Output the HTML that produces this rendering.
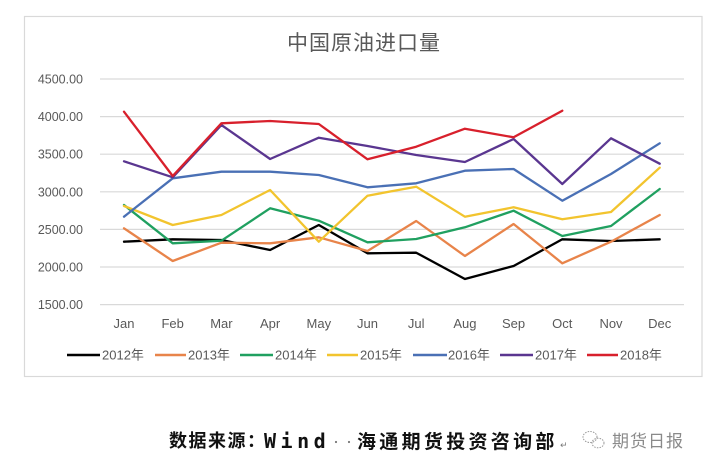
<!DOCTYPE html>
<html>
<head>
<meta charset="utf-8">
<style>
  html,body{margin:0;padding:0;background:#fff;}
  body{width:705px;height:471px;position:relative;overflow:hidden;}
  svg{position:absolute;left:0;top:0;}
  .src{position:absolute;font-family:"Noto Sans CJK SC","WenQuanYi Zen Hei",sans-serif;font-weight:bold;color:#111;white-space:nowrap;line-height:1;}
</style>
</head>
<body>
<svg width="705" height="471" viewBox="0 0 705 471" xmlns="http://www.w3.org/2000/svg">
  <rect x="0" y="0" width="705" height="471" fill="#fff"/>
  <rect x="24.5" y="16.5" width="677.5" height="360" fill="#fff" stroke="#d9d9d9" stroke-width="1.2"/>
  <text x="364" y="50" text-anchor="middle" font-family="'Liberation Sans','Noto Sans CJK SC',sans-serif" font-size="21" letter-spacing="1" fill="#595959">中国原油进口量</text>
  <!-- gridlines -->
  <g stroke="#d9d9d9" stroke-width="1.2">
    <line x1="100" y1="79" x2="684" y2="79"/>
    <line x1="100" y1="116.6" x2="684" y2="116.6"/>
    <line x1="100" y1="154.2" x2="684" y2="154.2"/>
    <line x1="100" y1="191.8" x2="684" y2="191.8"/>
    <line x1="100" y1="229.4" x2="684" y2="229.4"/>
    <line x1="100" y1="267" x2="684" y2="267"/>
    <line x1="100" y1="304.6" x2="684" y2="304.6"/>
  </g>
  <g font-family="'Liberation Sans',sans-serif" font-size="12.5" fill="#595959" text-anchor="end">
    <text x="83" y="83.5">4500.00</text>
    <text x="83" y="121.1">4000.00</text>
    <text x="83" y="158.7">3500.00</text>
    <text x="83" y="196.3">3000.00</text>
    <text x="83" y="233.9">2500.00</text>
    <text x="83" y="271.5">2000.00</text>
    <text x="83" y="309.1">1500.00</text>
  </g>
  <g font-family="'Liberation Sans',sans-serif" font-size="13" fill="#595959" text-anchor="middle">
    <text x="124" y="328">Jan</text>
    <text x="172.7" y="328">Feb</text>
    <text x="221.4" y="328">Mar</text>
    <text x="270.1" y="328">Apr</text>
    <text x="318.8" y="328">May</text>
    <text x="367.5" y="328">Jun</text>
    <text x="416.2" y="328">Jul</text>
    <text x="464.9" y="328">Aug</text>
    <text x="513.6" y="328">Sep</text>
    <text x="562.3" y="328">Oct</text>
    <text x="611" y="328">Nov</text>
    <text x="659.7" y="328">Dec</text>
  </g>
  <g fill="none" stroke-width="2.3" stroke-linejoin="round" stroke-linecap="round">
    <polyline stroke="#000000" points="124,241.7 172.7,239.3 221.4,240 270.1,250 318.8,225 367.5,253.3 416.2,252.7 464.9,279 513.6,266 562.3,239.3 611,241 659.7,239.3"/>
    <polyline stroke="#E8844A" points="124,228.3 172.7,261 221.4,242.7 270.1,243.3 318.8,237.3 367.5,251 416.2,221 464.9,256 513.6,224 562.3,263.3 611,241.7 659.7,215"/>
    <polyline stroke="#20A060" points="124,205 172.7,243.3 221.4,240.7 270.1,208.3 318.8,220.7 367.5,242.3 416.2,239 464.9,227.3 513.6,210.7 562.3,236 611,226 659.7,189"/>
    <polyline stroke="#F2C42E" points="124,206 172.7,225 221.4,215 270.1,190 318.8,241.7 367.5,195.7 416.2,186.7 464.9,216.7 513.6,207.3 562.3,219.3 611,212 659.7,167.7"/>
    <polyline stroke="#4A70B5" points="124,216.7 172.7,178.3 221.4,171.7 270.1,171.7 318.8,175 367.5,187.3 416.2,183.3 464.9,170.7 513.6,169 562.3,200.7 611,174 659.7,143.3"/>
    <polyline stroke="#5A3690" points="124,161.3 172.7,177.3 221.4,125 270.1,159 318.8,137.7 367.5,146 416.2,155 464.9,162 513.6,139 562.3,184 611,138.3 659.7,163.7"/>
    <polyline stroke="#D8202C" points="124,111.7 172.7,176 221.4,123.3 270.1,121 318.8,124 367.5,159.3 416.2,146.7 464.9,128.7 513.6,137.3 562.3,110.7"/>
  </g>
  <!-- legend -->
  <g stroke-width="2.5">
    <line x1="67" y1="355" x2="100" y2="355" stroke="#000000"/>
    <line x1="155" y1="355" x2="186" y2="355" stroke="#E8844A"/>
    <line x1="240" y1="355" x2="273" y2="355" stroke="#20A060"/>
    <line x1="327" y1="355" x2="358" y2="355" stroke="#F2C42E"/>
    <line x1="413" y1="355" x2="447" y2="355" stroke="#4A70B5"/>
    <line x1="500" y1="355" x2="533" y2="355" stroke="#5A3690"/>
    <line x1="587" y1="355" x2="618" y2="355" stroke="#D8202C"/>
  </g>
  <g font-family="'Liberation Sans','Noto Sans CJK SC',sans-serif" font-size="13" fill="#595959">
    <text x="102" y="359.5">2012年</text>
    <text x="188" y="359.5">2013年</text>
    <text x="275" y="359.5">2014年</text>
    <text x="360" y="359.5">2015年</text>
    <text x="448" y="359.5">2016年</text>
    <text x="535" y="359.5">2017年</text>
    <text x="620" y="359.5">2018年</text>
  </g>
  <!-- small dots between Wind and 海 -->
  <circle cx="336" cy="442" r="1.1" fill="#777"/>
  <circle cx="349" cy="442" r="1.1" fill="#777"/>
  <!-- wechat icon -->
  <g fill="none" stroke="#9a9a9a" stroke-width="1" stroke-dasharray="1.5,1.2">
    <ellipse cx="590" cy="437" rx="7" ry="5.5"/>
    <ellipse cx="598" cy="443" rx="6" ry="4.8"/>
  </g>
  <text x="560" y="448" font-family="'DejaVu Sans',sans-serif" font-size="9" fill="#777">↵</text>
</svg>
<div class="src" style="left:169px;top:431px;font-size:18px;letter-spacing:1.5px;">数据来源：</div>
<div class="src" style="left:264px;top:431px;font-size:20px;font-family:'DejaVu Sans Mono','Liberation Mono',monospace;letter-spacing:4.5px;">Wind</div>
<div class="src" style="left:357px;top:431px;font-size:19px;letter-spacing:3.3px;">海通期货投资咨询部</div>
<div class="src" style="left:612px;top:431px;font-size:17px;font-weight:normal;color:#8a8a8a;letter-spacing:1px;">期货日报</div>
</body>
</html>
